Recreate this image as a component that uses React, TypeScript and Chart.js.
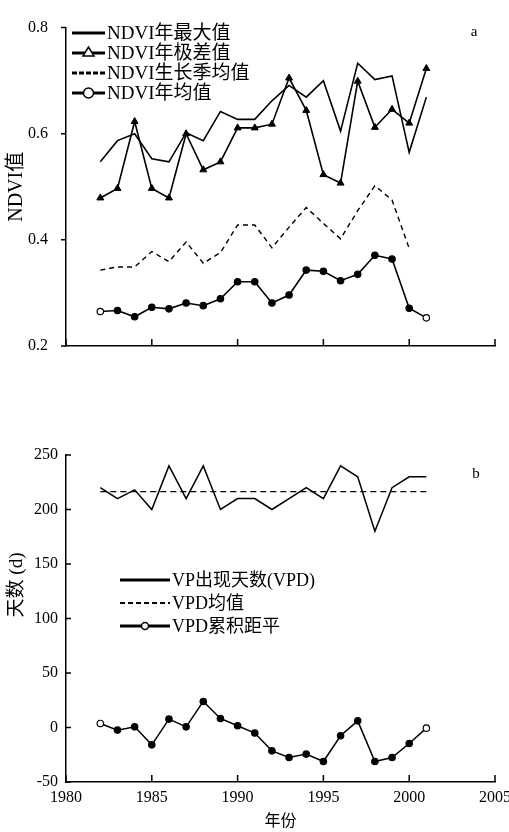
import React, { useEffect, useRef } from 'react';
import { Chart, registerables } from 'chart.js';

Chart.register(...registerables);

// ---------- data ----------
const YEARS = [1982, 1983, 1984, 1985, 1986, 1987, 1988, 1989, 1990, 1991, 1992, 1993, 1994, 1995, 1996, 1997, 1998, 1999, 2000, 2001];
const NDVI_MAX = [0.547, 0.587, 0.600, 0.553, 0.547, 0.602, 0.587, 0.642, 0.627, 0.627, 0.662, 0.691, 0.669, 0.700, 0.605, 0.733, 0.702, 0.709, 0.565, 0.669];
const NDVI_RANGE = [0.479, 0.497, 0.623, 0.497, 0.479, 0.600, 0.532, 0.547, 0.611, 0.611, 0.618, 0.705, 0.644, 0.523, 0.507, 0.699, 0.612, 0.646, 0.620, 0.723];
const NDVI_GS = [0.343, 0.349, 0.349, 0.378, 0.359, 0.396, 0.356, 0.376, 0.428, 0.428, 0.385, 0.424, 0.461, 0.431, 0.402, 0.455, 0.502, 0.475, 0.384, null];
const NDVI_MEAN = [0.265, 0.267, 0.255, 0.273, 0.270, 0.281, 0.276, 0.289, 0.321, 0.321, 0.281, 0.296, 0.343, 0.341, 0.323, 0.335, 0.371, 0.364, 0.271, 0.253];

const VP_DAYS = [220, 210, 218, 200, 240, 210, 240, 200, 210, 210, 200, 210, 220, 210, 240, 230, 180, 220, 230, 230];
const VPD_MEAN_YEARS = [1982, 2001];
const VPD_MEAN = [216.4, 216.4];
const VPD_CUM = [3.7, -2.4, 0.6, -15.9, 7.7, 0.6, 23.9, 8.3, 1.6, -5.1, -21.4, -27.5, -24.4, -31.2, -7.6, 6.1, -31.2, -27.5, -14.7, -0.6];

const X_TICKS = [1980, 1985, 1990, 1995, 2000, 2005];
const NDVI_TICKS = [0.2, 0.4, 0.6, 0.8];
const DAY_TICKS = [-50, 0, 50, 100, 150, 200, 250];

const NDVI_LABELS = ['NDVI年最大值', 'NDVI年极差值', 'NDVI生长季均值', 'NDVI年均值'];
const VPD_LABELS = ['VP出现天数(VPD)', 'VPD均值', 'VPD累积距平'];
const NDVI_TITLE = 'NDVI值';
const DAY_TITLE = '天数 (d)';
const X_TITLE = '年份';
const PANEL_A = 'a';
const PANEL_B = 'b';

// ---------- style ----------
const FONT = "'Liberation Serif', 'Noto Sans CJK SC', serif";
const BLACK = '#000';

const pts = (xs: number[], ys: (number | null)[]) => xs.map((x, i) => ({ x, y: ys[i] }));
const endHollow = (n: number) => Array.from({ length: n }, (_, i) => (i === 0 || i === n - 1 ? '#fff' : BLACK));

type Kind = 'solid' | 'triangle' | 'dashedBlock' | 'circle' | 'dashed' | 'circleSmall';

function legendRow(ctx: CanvasRenderingContext2D, x0: number, x1: number, y: number, kind: Kind, text: string, size: number) {
  ctx.save();
  ctx.strokeStyle = BLACK;
  ctx.fillStyle = BLACK;
  ctx.lineWidth = 3;
  if (kind === 'dashedBlock') ctx.setLineDash([5, 2]);
  if (kind === 'dashed') { ctx.setLineDash([5, 3]); ctx.lineWidth = 2; }
  ctx.beginPath();
  ctx.moveTo(x0, y);
  ctx.lineTo(x1, y);
  ctx.stroke();
  ctx.setLineDash([]);
  const cx = (x0 + x1) / 2;
  ctx.lineWidth = 1.5;
  if (kind === 'triangle') {
    ctx.beginPath();
    ctx.moveTo(cx, y - 6);
    ctx.lineTo(cx + 5.5, y + 3);
    ctx.lineTo(cx - 5.5, y + 3);
    ctx.closePath();
    ctx.fillStyle = '#fff';
    ctx.fill();
    ctx.stroke();
  }
  if (kind === 'circle' || kind === 'circleSmall') {
    ctx.beginPath();
    ctx.arc(cx, y, kind === 'circle' ? 5 : 3.5, 0, Math.PI * 2);
    ctx.fillStyle = '#fff';
    ctx.fill();
    ctx.stroke();
  }
  ctx.fillStyle = BLACK;
  ctx.font = `${size}px ${FONT}`;
  ctx.textAlign = 'left';
  ctx.textBaseline = 'middle';
  ctx.fillText(text, x1 + 2, y + 1);
  ctx.restore();
}

function drawTickMarks(chart: any, yOutward: boolean) {
  const { ctx, chartArea, scales } = chart;
  ctx.save();
  ctx.strokeStyle = BLACK;
  ctx.lineWidth = 1.5;
  ctx.beginPath();
  scales.x.ticks.forEach((t: any) => {
    const px = scales.x.getPixelForValue(t.value);
    ctx.moveTo(px, chartArea.bottom);
    ctx.lineTo(px, chartArea.bottom - 7);
  });
  scales.y.ticks.forEach((t: any) => {
    const py = scales.y.getPixelForValue(t.value);
    if (yOutward) { ctx.moveTo(chartArea.left - 5, py); ctx.lineTo(chartArea.left, py); }
    else { ctx.moveTo(chartArea.left, py); ctx.lineTo(chartArea.left + 5, py); }
  });
  ctx.stroke();
  ctx.restore();
}

const CANVAS_W = 540;

export default function App() {
  const topRef = useRef<HTMLCanvasElement>(null);
  const botRef = useRef<HTMLCanvasElement>(null);

  useEffect(() => {
    Chart.defaults.font.family = FONT;
    Chart.defaults.color = BLACK;

    const xBase = (showLabels: boolean, height: number) => ({
      type: 'linear' as const,
      min: 1980,
      max: 2005,
      afterBuildTicks: (s: any) => { s.ticks = X_TICKS.map((v) => ({ value: v })); },
      grid: { display: false, drawTicks: false, tickLength: 0 },
      border: { display: true, color: BLACK, width: 1.5 },
      ticks: { display: showLabels, font: { size: 16 }, color: BLACK, padding: 6, maxRotation: 0, callback: (v: any) => String(v) },
      afterFit: (s: any) => { s.height = height; },
    });

    const top = new Chart(topRef.current!, {
      type: 'line',
      data: {
        datasets: [
          { label: NDVI_LABELS[0], data: pts(YEARS, NDVI_MAX), borderColor: BLACK, borderWidth: 1.6, pointRadius: 0, tension: 0 },
          { label: NDVI_LABELS[1], data: pts(YEARS, NDVI_RANGE), borderColor: BLACK, borderWidth: 1.6, pointStyle: 'triangle', pointRadius: 4, pointBackgroundColor: BLACK, pointBorderColor: BLACK, pointBorderWidth: 1 },
          { label: NDVI_LABELS[2], data: pts(YEARS, NDVI_GS), borderColor: BLACK, borderWidth: 1.4, borderDash: [5, 4], pointRadius: 0, spanGaps: false },
          { label: NDVI_LABELS[3], data: pts(YEARS, NDVI_MEAN), borderColor: BLACK, borderWidth: 1.6, pointStyle: 'circle', pointRadius: 3.2, pointBackgroundColor: endHollow(YEARS.length), pointBorderColor: BLACK, pointBorderWidth: 1.2 },
        ],
      },
      options: {
        animation: false,
        responsive: false,
        layout: { padding: { left: 0, right: CANVAS_W - 495, top: 16, bottom: 0 } },
        plugins: { legend: { display: false }, tooltip: { enabled: false } },
        scales: {
          x: xBase(false, 34),
          y: {
            type: 'linear',
            min: 0.2,
            max: 0.8,
            afterBuildTicks: (s: any) => { s.ticks = NDVI_TICKS.map((v) => ({ value: v })); },
            grid: { display: false, drawTicks: false, tickLength: 0 },
            border: { display: true, color: BLACK, width: 1.5 },
            ticks: { font: { size: 16 }, color: BLACK, padding: 18, callback: (v: any) => Number(v).toFixed(1) },
            title: { display: true, text: NDVI_TITLE, font: { size: 20 }, color: BLACK, padding: { top: 5, bottom: 0 } },
            afterFit: (s: any) => { s.width = 66; },
          },
        },
      },
      plugins: [
        {
          id: 'decorA',
          afterDraw(chart: any) {
            drawTickMarks(chart, true);
            const ctx = chart.ctx;
            const kinds: Kind[] = ['solid', 'triangle', 'dashedBlock', 'circle'];
            NDVI_LABELS.forEach((t, i) => legendRow(ctx, 72, 105, 33 + i * 20, kinds[i], t, 19));
            ctx.save();
            ctx.font = `15px ${FONT}`;
            ctx.fillStyle = BLACK;
            ctx.textAlign = 'center';
            ctx.textBaseline = 'middle';
            ctx.fillText(PANEL_A, 474, 32);
            ctx.restore();
          },
        },
      ],
    } as any);

    const bot = new Chart(botRef.current!, {
      type: 'line',
      data: {
        datasets: [
          { label: VPD_LABELS[0], data: pts(YEARS, VP_DAYS), borderColor: BLACK, borderWidth: 1.5, pointRadius: 0, tension: 0 },
          { label: VPD_LABELS[1], data: pts(VPD_MEAN_YEARS, VPD_MEAN), borderColor: BLACK, borderWidth: 1.4, borderDash: [6, 4], pointRadius: 0 },
          { label: VPD_LABELS[2], data: pts(YEARS, VPD_CUM), borderColor: BLACK, borderWidth: 1.5, pointStyle: 'circle', pointRadius: 3.2, pointBackgroundColor: endHollow(YEARS.length), pointBorderColor: BLACK, pointBorderWidth: 1.2 },
        ],
      },
      options: {
        animation: false,
        responsive: false,
        layout: { padding: { left: 0, right: CANVAS_W - 495, top: 55, bottom: 0 } },
        plugins: { legend: { display: false }, tooltip: { enabled: false } },
        scales: {
          x: {
            ...xBase(true, 50),
            title: { display: true, text: X_TITLE, font: { size: 16 }, color: BLACK, padding: { top: 0, bottom: 1 } },
          },
          y: {
            type: 'linear',
            min: -50,
            max: 250,
            afterBuildTicks: (s: any) => { s.ticks = DAY_TICKS.map((v) => ({ value: v })); },
            grid: { display: false, drawTicks: false, tickLength: 0 },
            border: { display: true, color: BLACK, width: 1.5 },
            ticks: { font: { size: 16 }, color: BLACK, padding: 8, callback: (v: any) => String(v) },
            afterFit: (s: any) => { s.width = 66; },
          },
        },
      },
      plugins: [
        {
          id: 'decorB',
          afterDraw(chart: any) {
            drawTickMarks(chart, false);
            const ctx = chart.ctx;
            const kinds: Kind[] = ['solid', 'dashed', 'circleSmall'];
            VPD_LABELS.forEach((t, i) => legendRow(ctx, 120, 170, 180 + i * 23, kinds[i], t, 18));
            ctx.save();
            ctx.fillStyle = BLACK;
            ctx.font = `15px ${FONT}`;
            ctx.textAlign = 'center';
            ctx.textBaseline = 'middle';
            ctx.fillText(PANEL_B, 476, 74);
            ctx.translate(17, 185);
            ctx.rotate(-Math.PI / 2);
            ctx.font = `19px ${FONT}`;
            ctx.fillText(DAY_TITLE, 0, 0);
            ctx.restore();
          },
        },
      ],
    } as any);

    return () => {
      top.destroy();
      bot.destroy();
    };
  }, []);

  return (
    <div style={{ position: 'absolute', left: 0, top: 0, width: 509, height: 832, overflow: 'hidden', background: '#fff' }}>
      <canvas ref={topRef} width={CANVAS_W} height={380} style={{ position: 'absolute', left: 0, top: 0, display: 'block' }} />
      <canvas ref={botRef} width={CANVAS_W} height={432} style={{ position: 'absolute', left: 0, top: 400, display: 'block' }} />
    </div>
  );
}
